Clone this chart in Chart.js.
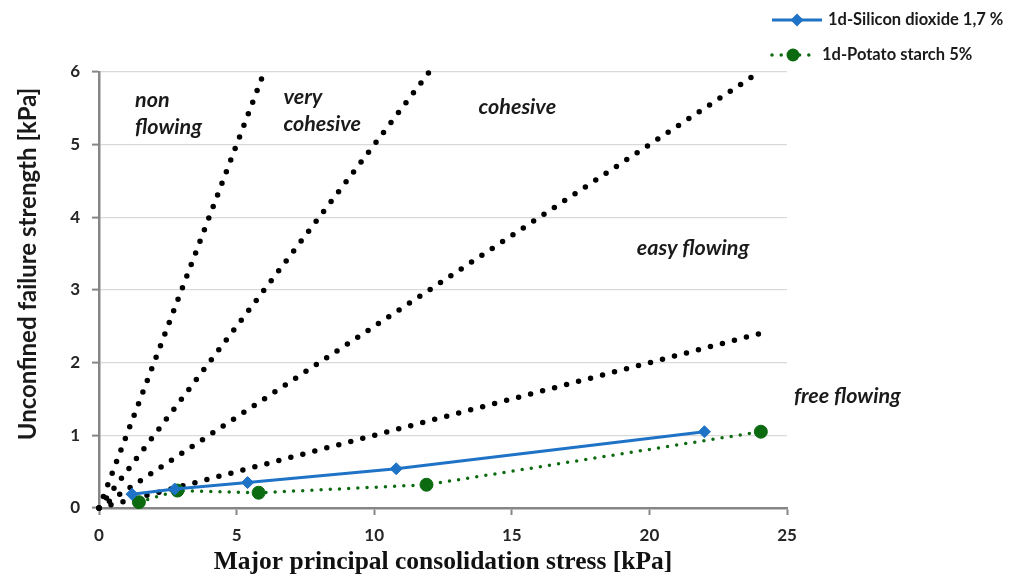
<!DOCTYPE html>
<html><head><meta charset="utf-8">
<script src="https://cdn.jsdelivr.net/npm/chart.js@4.4.1/dist/chart.umd.min.js"></script>
<style>html,body{margin:0;padding:0;background:#fff;overflow:hidden}</style>
</head><body>
<canvas id="c" width="1010" height="578"></canvas>
<script>
// ---- data ----
const seriesNames = ['1d-Silicon dioxide 1,7 %', '1d-Potato starch 5%'];
const silicaX = [1.2, 2.75, 5.4, 10.8, 22.0];
const silicaY = [0.19, 0.26, 0.35, 0.54, 1.05];
const starchX = [1.45, 2.85, 5.8, 11.9, 24.05];
const starchY = [0.08, 0.24, 0.21, 0.32, 1.05];
// flowability boundary lines (ffc = 1, 2, 4, 10), from origin to end point
const boundaryStartX = [0, 0, 0, 0];
const boundaryStartY = [0, 0, 0, 0];
const boundaryEndX = [6, 12, 24, 24];
const boundaryEndY = [6, 6, 6, 2.4];
// zone labels, anchored in data coordinates
const zoneLabels = [['non', 'flowing'], ['very', 'cohesive'], ['cohesive'], ['easy flowing'], ['free flowing']];
const zoneX = [1.31, 6.70, 13.79, 19.54, 25.25];
const zoneY = [5.61, 5.66, 5.52, 3.58, 1.54];
const xTicks = [0, 5, 10, 15, 20, 25];
const yTicks = [0, 1, 2, 3, 4, 5, 6];
const xTitle = 'Major principal consolidation stress [kPa]';
const yTitle = 'Unconfined failure strength [kPa]';

const BLUE = '#1f73c6';
const GREEN = '#0c6b10';
const AXIS = '#868686';

const datasets = [];
for (let i = 0; i < boundaryEndX.length; i++) {
  datasets.push({
    label: 'ffc' + i,
    data: [{x: boundaryStartX[i], y: boundaryStartY[i]}, {x: boundaryEndX[i], y: boundaryEndY[i]}],
    showLine: true, borderColor: '#000', borderWidth: 5.5,
    borderDash: [0, 12.4], borderCapStyle: 'round',
    pointRadius: 0, pointHoverRadius: 0, fill: false, clip: false, order: 3
  });
}
datasets.push({
  label: seriesNames[0],
  data: silicaX.map((x, i) => ({x, y: silicaY[i]})),
  showLine: true, borderColor: BLUE, borderWidth: 3,
  pointStyle: 'rectRot', pointRadius: 6, pointBackgroundColor: BLUE, pointBorderColor: BLUE,
  pointBorderWidth: 1, clip: false, order: 1
});
datasets.push({
  label: seriesNames[1],
  data: starchX.map((x, i) => ({x, y: starchY[i]})),
  showLine: true, borderColor: GREEN, borderWidth: 3.5,
  borderDash: [0, 9.2], borderCapStyle: 'round',
  pointStyle: 'circle', pointRadius: 6.5, pointBackgroundColor: GREEN, pointBorderColor: GREEN,
  pointBorderWidth: 1, clip: false, order: 2
});

const legendPlugin = {
  id: 'customLegend',
  afterDraw(chart) {
    const ctx = chart.ctx;
    const x0 = 772, x1 = 822, xm = 797, tx = 828;
    const rows = [20, 55];
    ctx.save();
    // row 1
    let y = rows[0];
    ctx.strokeStyle = BLUE; ctx.lineWidth = 3; ctx.setLineDash([]);
    ctx.beginPath(); ctx.moveTo(x0, y); ctx.lineTo(x1, y); ctx.stroke();
    ctx.fillStyle = BLUE;
    ctx.beginPath(); ctx.moveTo(xm, y - 6.5); ctx.lineTo(xm + 6.5, y); ctx.lineTo(xm, y + 6.5); ctx.lineTo(xm - 6.5, y); ctx.closePath(); ctx.fill();
    // row 2
    y = rows[1];
    ctx.strokeStyle = GREEN; ctx.lineWidth = 3.5; ctx.lineCap = 'round'; ctx.setLineDash([0, 9.2]);
    ctx.beginPath(); ctx.moveTo(x0, y); ctx.lineTo(x1 - 6, y); ctx.stroke();
    ctx.setLineDash([]);
    ctx.fillStyle = GREEN;
    ctx.beginPath(); ctx.arc(xm - 4, y, 6.5, 0, Math.PI * 2); ctx.fill();
    // text
    ctx.fillStyle = '#1a1a1a';
    ctx.font = 'bold 16.5px Lato';
    ctx.textBaseline = 'middle'; ctx.textAlign = 'left';
    ctx.fillText(seriesNames[0], tx, rows[0]);
    ctx.fillText(seriesNames[1], tx - 6, rows[1]);
    ctx.restore();
  }
};

const zonePlugin = {
  id: 'zones',
  afterDatasetsDraw(chart) {
    const ctx = chart.ctx;
    const xs = chart.scales.x, ys = chart.scales.y;
    ctx.save();
    ctx.fillStyle = '#1a1a1a';
    ctx.font = 'italic bold 21.5px Lato';
    ctx.textBaseline = 'middle'; ctx.textAlign = 'left';
    zoneLabels.forEach((lines, i) => {
      const px = xs.getPixelForValue(zoneX[i]);
      const py = ys.getPixelForValue(zoneY[i]);
      lines.forEach((t, k) => ctx.fillText(t, px, py + k * 27));
    });
    // y axis title
    ctx.translate(28, 264);
    ctx.rotate(-Math.PI / 2);
    ctx.textAlign = 'center';
    ctx.font = 'bold 24px Lato';
    ctx.fillStyle = '#1a1a1a';
    ctx.fillText(yTitle, 0, 0);
    ctx.restore();
  }
};

new Chart(document.getElementById('c'), {
  type: 'scatter',
  data: {datasets},
  options: {
    responsive: false, animation: false, devicePixelRatio: 1,
    layout: {padding: {top: 72, right: 223, left: 0, bottom: 0}},
    plugins: {legend: {display: false}, tooltip: {enabled: false}},
    scales: {
      x: {
        type: 'linear', min: 0, max: 25,
        afterFit(s) { s.height = 70; },
        afterBuildTicks(s) { s.ticks = xTicks.map(v => ({value: v})); },
        grid: {drawOnChartArea: false, tickLength: 7, tickColor: AXIS, tickWidth: 2},
        border: {display: true, color: AXIS, width: 2.5},
        ticks: {padding: 10, color: '#262626', font: {family: 'Lato', size: 17, weight: 'bold'}},
        title: {display: true, text: xTitle, color: '#111',
          font: {family: 'Liberation Serif', size: 25.5, weight: 'bold', lineHeight: 1},
          padding: {top: 0, bottom: 3}}
      },
      y: {
        type: 'linear', min: 0, max: 6,
        afterFit(s) { s.width = 99; },
        afterBuildTicks(s) { s.ticks = yTicks.map(v => ({value: v})); },
        grid: {color: '#d9d9d9', lineWidth: 1.2, tickLength: 7, tickColor: AXIS, tickWidth: 2},
        border: {display: true, color: AXIS, width: 2.5},
        ticks: {padding: 12, color: '#262626', font: {family: 'Lato', size: 17, weight: 'bold'}}
      }
    }
  },
  plugins: [legendPlugin, zonePlugin]
});
</script>
</body></html>
